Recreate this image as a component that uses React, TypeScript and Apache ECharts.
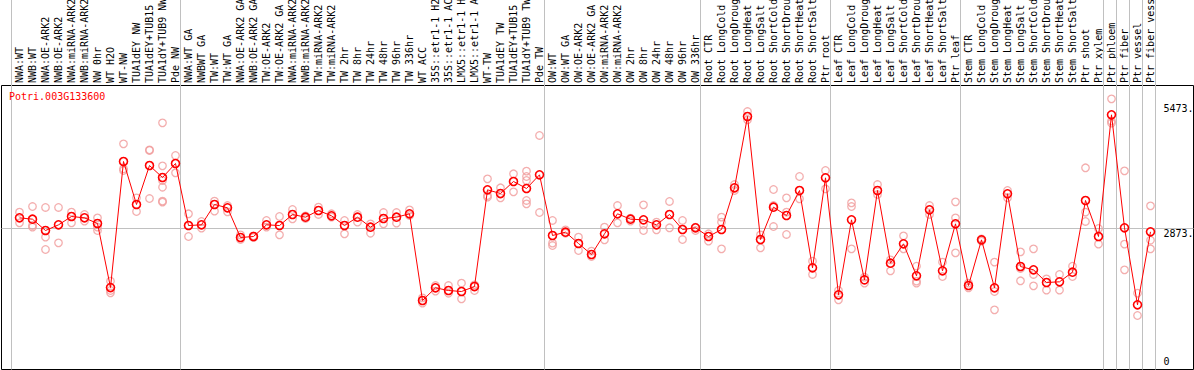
import React, { useEffect, useRef } from "react";
import * as echarts from "echarts";

const title = "Potri.003G133600";

const categories = [
  "NWA:WT", "NWB:WT", "NWA:OE-ARK2", "NWB:OE-ARK2", "NWA:miRNA-ARK2", "NWB:miRNA-ARK2",
  "NW 0hr", "WT H2O", "WT-NW", "TUA1dEY NW", "TUA1dEY+TUB15", "TUA1dY+TUB9 NW", "Pde NW",
  "NWA:WT GA", "NWBWT GA", "TW:WT", "TW:WT GA", "NWA:OE-ARK2 GA", "NWB:OE-ARK2 GA",
  "TW:OE-ARK2", "TW:OE-ARK2 GA", "NWA:miRNA-ARK2", "NWB:miRNA-ARK2", "TW:miRNA-ARK2",
  "TW:miRNA-ARK2", "TW 2hr", "TW 8hr", "TW 24hr", "TW 48hr", "TW 96hr", "TW 336hr",
  "WT ACC", "35S::etr1-1 H2O", "35S::etr1-1 ACC", "LMX5::etr1-1 H2O", "LMX5::etr1-1 ACC",
  "WT-TW", "TUA1dEY TW", "TUA1dEY+TUB15", "TUA1dY+TUB9 TW", "Pde TW",
  "OW:WT", "OW:WT GA", "OW:OE-ARK2", "OW:OE-ARK2 GA", "OW:miRNA-ARK2", "OW:miRNA-ARK2",
  "OW 2hr", "OW 8hr", "OW 24hr", "OW 48hr", "OW 96hr", "OW 336hr",
  "Root CTR", "Root LongCold", "Root LongDrought", "Root LongHeat", "Root LongSalt",
  "Root ShortCold", "Root ShortDrought", "Root ShortHeat", "Root ShortSalt", "Ptr root",
  "Leaf CTR", "Leaf LongCold", "Leaf LongDrought", "Leaf LongHeat", "Leaf LongSalt",
  "Leaf ShortCold", "Leaf ShortDrought", "Leaf ShortHeat", "Leaf ShortSalt", "Ptr leaf",
  "Stem CTR", "Stem LongCold", "Stem LongDrought", "Stem LongHeat", "Stem LongSalt",
  "Stem ShortCold", "Stem ShortDrought", "Stem ShortHeat", "Stem ShortSalt", "Ptr shoot",
  "Ptr xylem", "Ptr phloem", "Ptr fiber", "Ptr vessel", "Ptr fiber vessel",
];

// index where each group begins (last entry = end of the final group)
const groupStarts = [0, 13, 41, 53, 63, 73, 84, 85, 86, 87, 88];

const means = [
  3095, 3067, 2831, 2949, 3123, 3095, 2977, 1642, 4270, 3373, 4186, 3936, 4228,
  2935, 2949, 3373, 3304, 2685, 2706, 2949, 2935, 3165, 3109, 3248, 3137, 2935, 3109,
  2901, 3081, 3109, 3179, 1372, 1636, 1580, 1559, 1663, 3679, 3602, 3853, 3707, 3992,
  2727, 2796, 2560, 2331, 2762, 3179, 3067, 3053, 2949, 3165, 2852, 2887,
  2706, 2852, 3721, 5208, 2643, 3318, 3144, 3665, 2053, 3929,
  1490, 3053, 1802, 3665, 2150, 2553, 1886, 3262, 1990, 2970,
  1684, 2636, 1636, 3596, 2080, 2011, 1747, 1761, 1962, 3457, 2706,
  5243, 2887, 1281, 2803,
];

const replicates = [
  [3213, 2991], [3331, 2935, 2901], [3311, 2692, 2435], [3311, 2574], [3213, 2991],
  [3165, 3026], [3095, 2901, 2831], [1775, 1580, 1531], [4638, 4117, 4082], [3512, 3227],
  [4513, 4499, 3498], [5076, 4179, 3874, 3734, 3443, 3422], [4395, 4033],
  [3179, 2706], [3019, 2880], [3443, 3234], [3352, 3220], [2741, 2643], [2720, 2685],
  [3040, 2901], [3123, 2741], [3269, 3074], [3137, 3081], [3318, 3165], [3179, 3109],
  [3040, 2762], [3165, 3005], [2970, 2775], [3206, 2970], [3206, 2984], [3262, 3144],
  [1427, 1316], [1684, 1566], [1684, 1524], [1733, 1406], [1698, 1580],
  [3908, 3561, 3526], [3721, 3512], [4013, 3637], [4068, 3957, 3874, 3457, 3387], [4812, 3206],
  [3040, 2567, 2518], [2845, 2775], [2692, 2414], [2400, 2289], [2901, 2636], [3352, 2991],
  [3088, 3026], [3366, 2949, 2831], [3005, 2845], [3436, 2887], [3040, 2643], [2901, 2831],
  [2762, 2609], [3109, 3005, 2449], [3790, 3665], [5312, 5138], [2741, 2470],
  [3686, 3352, 2914], [3512, 3213, 2748], [3957, 3491], [2192, 1914], [4082, 3700],
  [1580, 1385], [3408, 3331, 2449], [1858, 1733], [3790, 3582], [2219, 1990],
  [2720, 2449], [2087, 1775, 1733], [3352, 3165], [2171, 1872], [3429, 3095, 2365],
  [1733, 1636], [2657, 2609], [2171, 1559, 1177], [3665, 3512], [2386, 2039, 1782],
  [2449, 1914, 1677], [1823, 1587], [1914, 1587], [2087, 1872], [4138, 3213, 3019],
  [2873, 2546],
  [5576, 5111, 5069], [4075, 2546, 2011], [1524, 1059], [3345, 2629, 2449],
];

const refLine = 2873;
const yTickValues = [0, 2873, 5473];
const yTickLabels = ["0", "2873.", "5473."];

const FONT = '10px "DejaVu Sans Mono", monospace';

export default function App() {
  const ref = useRef<HTMLDivElement>(null);

  useEffect(() => {
    if (!ref.current) return;
    const chart = echarts.init(ref.current, null, { renderer: "svg" });
    const n = categories.length;
    const repData: number[][] = [];
    replicates.forEach((arr, i) => arr.forEach((v) => repData.push([i, v])));

    chart.setOption({
      animation: false,
      graphic: [
        {
          type: "text",
          left: 9,
          top: 91,
          z: 10,
          style: { text: title, fill: "#ff0000", font: FONT },
        },
      ],
      grid: [
        {
          left: 13,
          width: 13 * n,
          top: 0,
          bottom: 0.5,
          containLabel: false,
          outerBoundsMode: "none",
        },
        {
          left: 1.5,
          right: 0.5,
          top: 85.5,
          bottom: 0.5,
          containLabel: false,
          outerBoundsMode: "none",
          show: true,
          borderColor: "#000",
          borderWidth: 1,
          backgroundColor: "transparent",
        },
      ],
      xAxis: [
        {
          type: "category",
          gridIndex: 0,
          data: categories,
          position: "top",
          offset: -84,
          boundaryGap: true,
          axisLine: { show: false },
          axisTick: { show: false },
          splitLine: { show: false },
          axisLabel: {
            interval: 0,
            rotate: 90,
            margin: 1,
            fontSize: 10,
            fontFamily: '"DejaVu Sans Mono", monospace',
            color: "#000",
          },
        },
        { type: "value", gridIndex: 1, min: 0, max: 1, show: false },
      ],
      yAxis: [
        { type: "value", gridIndex: 0, min: -67, max: 7637, show: false },
        { type: "value", gridIndex: 1, min: -67, max: 5855, show: false },
      ],
      series: [
        {
          type: "custom",
          xAxisIndex: 0,
          yAxisIndex: 0,
          silent: true,
          clip: false,
          z: 1,
          data: groupStarts.map((s) => [s, 0]),
          renderItem: (params: any, api: any) => {
            const cs = params.coordSys;
            const band = cs.width / n;
            const s = groupStarts[params.dataIndex];
            const x = Math.floor(cs.x + band * s - 1.7) + 0.5;
            return {
              type: "line",
              shape: { x1: x, y1: cs.y, x2: x, y2: cs.y + cs.height },
              style: { stroke: "#c0c0c0", lineWidth: 1 },
            };
          },
        },
        {
          type: "custom",
          xAxisIndex: 1,
          yAxisIndex: 1,
          silent: true,
          clip: false,
          z: 1,
          data: [[0, refLine]],
          renderItem: (params: any, api: any) => {
            const cs = params.coordSys;
            const y = Math.floor(api.coord([0, api.value(1)])[1]) + 0.5;
            return {
              type: "line",
              shape: { x1: cs.x, y1: y, x2: cs.x + cs.width, y2: y },
              style: { stroke: "#c0c0c0", lineWidth: 1 },
            };
          },
        },
        {
          type: "custom",
          xAxisIndex: 1,
          yAxisIndex: 1,
          silent: true,
          clip: false,
          z: 6,
          data: yTickValues.map((v) => [0, v]),
          renderItem: (params: any, api: any) => {
            const cs = params.coordSys;
            const v = api.value(1);
            const y = api.coord([0, v])[1];
            return {
              type: "text",
              x: cs.x + cs.width - 30,
              y: y,
              style: {
                text: yTickLabels[params.dataIndex],
                fill: "#000",
                font: FONT,
                align: "left",
                verticalAlign: params.dataIndex === 0 ? "bottom" : "top",
              },
            };
          },
        },
        {
          type: "scatter",
          xAxisIndex: 0,
          yAxisIndex: 0,
          data: repData,
          symbol: "circle",
          symbolSize: 7.5,
          z: 3,
          itemStyle: { color: "rgba(0,0,0,0)", borderColor: "#f09a9a", borderWidth: 1.3 },
          emphasis: { disabled: true },
        },
        {
          type: "line",
          xAxisIndex: 0,
          yAxisIndex: 0,
          data: means,
          z: 4,
          symbol: "circle",
          symbolSize: 8,
          showSymbol: true,
          showAllSymbol: true,
          lineStyle: { color: "#ff0000", width: 1 },
          itemStyle: { color: "rgba(255,0,0,0)", borderColor: "#ff0000", borderWidth: 1.6 },
          emphasis: { disabled: true },
        },
      ],
    });

    return () => chart.dispose();
  }, []);

  return (
    <div
      ref={ref}
      style={{ position: "absolute", left: 0, top: 0, width: 1194, height: 370, background: "#fff" }}
    />
  );
}
